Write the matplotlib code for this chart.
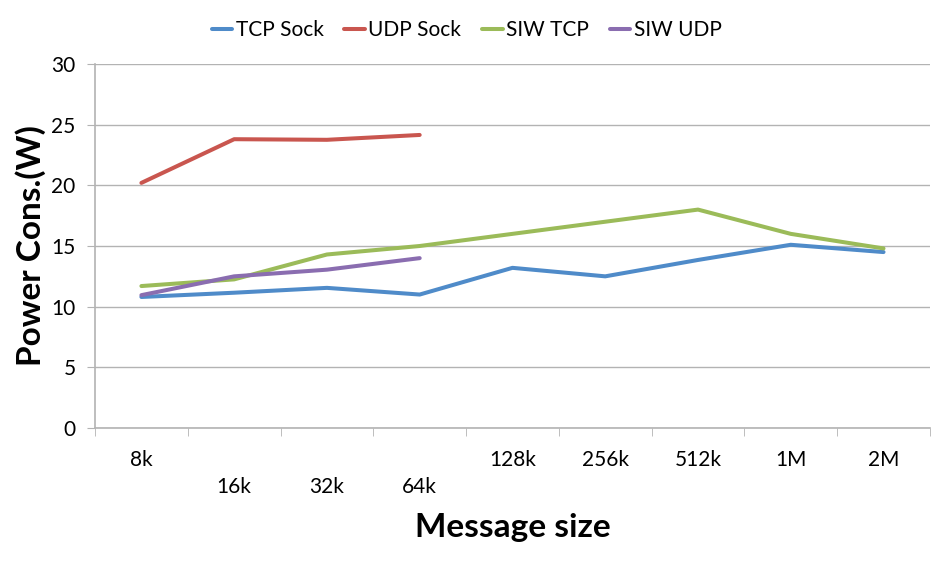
import matplotlib
matplotlib.use("Agg")
import matplotlib.pyplot as plt
from matplotlib.ticker import FixedLocator

plt.rcParams['font.family'] = ['Lato', 'DejaVu Sans']

sizes = ["8k", "16k", "32k", "64k", "128k", "256k", "512k", "1M", "2M"]
tcp_sock = [10.8, 11.15, 11.55, 11.0, 13.2, 12.5, 13.85, 15.1, 14.5]
udp_sock = [20.2, 23.8, 23.75, 24.15]
siw_tcp = [11.7, 12.25, 14.3, 15.0, 16.0, 17.0, 18.0, 16.0, 14.8]
siw_udp = [10.95, 12.5, 13.05, 14.0]

fig = plt.figure(figsize=(9.52, 5.61), dpi=100)
ax = fig.add_axes([0.0998, 0.237, 0.877, 0.649])

x = list(range(len(sizes)))
ax.plot(x, tcp_sock, color="#4f8bc9", lw=2.9, label="TCP Sock", solid_capstyle="round")
ax.plot(x[:len(udp_sock)], udp_sock, color="#c9564f", lw=2.9, label="UDP Sock", solid_capstyle="round")
ax.plot(x, siw_tcp, color="#9bbb59", lw=2.9, label="SIW TCP", solid_capstyle="round")
ax.plot(x[:len(siw_udp)], siw_udp, color="#8a6db0", lw=2.9, label="SIW UDP", solid_capstyle="round")

ax.set_xlim(-0.5, len(sizes) - 0.5)
ax.set_ylim(0, 30)
ax.set_yticks(range(0, 31, 5))
ax.yaxis.grid(True, color="#b3b3b3", lw=1)
ax.set_axisbelow(True)

for s in ["top", "right"]:
    ax.spines[s].set_visible(False)
for s in ["left", "bottom"]:
    ax.spines[s].set_color("#b3b3b3")
    ax.spines[s].set_linewidth(1.2)

ax.set_xticks(x)
ax.set_xticklabels(sizes, fontsize=15)
ax.xaxis.set_minor_locator(FixedLocator([i - 0.5 for i in range(len(sizes) + 1)]))
ax.tick_params(axis="x", which="major", length=0)
ax.tick_params(axis="x", which="minor", length=6, color="#b3b3b3")
ax.tick_params(axis="y", length=6, color="#b3b3b3", labelsize=15, pad=8)
for i, t in enumerate(ax.xaxis.get_major_ticks()):
    t.set_pad(35 if i in (1, 2, 3) else 16)

ax.set_xlabel("Message size", fontsize=24, fontweight="bold", labelpad=12)
ax.set_ylabel("Power Cons.(W)", fontsize=24, fontweight="bold", labelpad=4)

fig.legend(loc="upper center", bbox_to_anchor=(0.49, 0.998), ncol=4, frameon=False,
           fontsize=15, handlelength=1.0, handletextpad=0.15, columnspacing=1.0)

fig.savefig("out.png", dpi=100)
